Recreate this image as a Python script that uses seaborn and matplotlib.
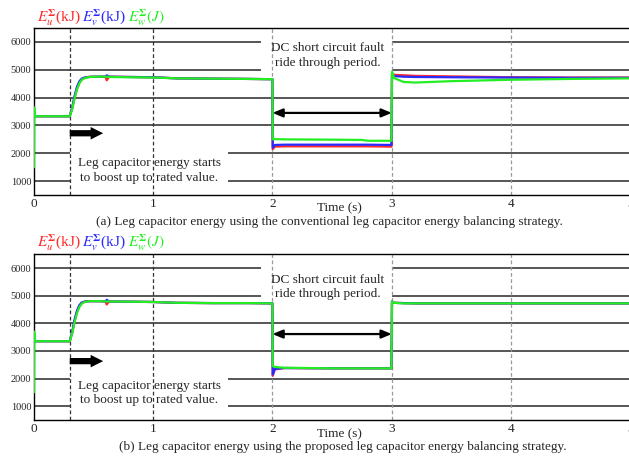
import matplotlib
matplotlib.use("Agg")
import matplotlib.pyplot as plt
from matplotlib.patches import Rectangle
import numpy as np
import pandas as pd
import seaborn as sns

sns.set_style("white")
plt.rcParams["font.family"] = ["Liberation Serif", "DejaVu Serif"]
plt.rcParams["mathtext.fontset"] = "stix"

# Sample instants (s) shared by all traces
time_s = [0, 0.002, 0.01, 0.3, 0.32, 0.34, 0.36, 0.38, 0.40, 0.43, 0.47, 0.55,
          0.6, 0.61, 0.63, 0.8, 1.0, 1.2, 1.5, 1.8, 1.999, 2.002, 2.02, 2.1,
          2.5, 2.75, 2.8, 2.998, 3.002, 3.02, 3.1, 3.2, 3.5, 4.0, 4.5, 5.0]

# (a) conventional balancing strategy
conv_u = [3300, 3330, 3330, 3330, 3600, 3980, 4300, 4520, 4650, 4720, 4745, 4750,
          4750, 4620, 4750, 4740, 4730, 4690, 4680, 4670, 4660, 2150, 2240, 2250,
          2250, 2250, 2250, 2240, 4850, 4820, 4800, 4780, 4760, 4730, 4720, 4720]
conv_v = [3330, 3330, 3330, 3330, 3640, 4050, 4380, 4580, 4680, 4730, 4745, 4750,
          4750, 4800, 4750, 4740, 4730, 4690, 4680, 4670, 4660, 2200, 2300, 2310,
          2310, 2310, 2310, 2300, 4800, 4770, 4750, 4740, 4730, 4720, 4710, 4710]
conv_w = [1500, 3650, 3330, 3330, 3580, 3960, 4290, 4510, 4640, 4710, 4740, 4750,
          4750, 4750, 4740, 4730, 4720, 4690, 4680, 4670, 4660, 2500, 2510, 2500,
          2490, 2480, 2450, 2450, 4930, 4700, 4560, 4540, 4590, 4640, 4670, 4690]

# (b) proposed balancing strategy
prop_u = [3300, 3350, 3350, 3350, 3640, 4060, 4400, 4620, 4730, 4790, 4800, 4800,
          4790, 4680, 4790, 4780, 4770, 4740, 4730, 4730, 4720, 2100, 2330, 2380,
          2370, 2370, 2370, 2370, 4780, 4740, 4730, 4720, 4720, 4720, 4720, 4720]
prop_v = [3350, 3350, 3350, 3350, 3680, 4120, 4450, 4650, 4750, 4790, 4800, 4800,
          4790, 4850, 4790, 4780, 4770, 4740, 4730, 4730, 4720, 2150, 2350, 2380,
          2370, 2370, 2370, 2370, 4790, 4740, 4730, 4720, 4720, 4720, 4720, 4720]
prop_w = [1500, 3700, 3350, 3350, 3620, 4020, 4360, 4580, 4710, 4780, 4800, 4800,
          4790, 4790, 4790, 4780, 4770, 4740, 4730, 4730, 4720, 2450, 2420, 2390,
          2370, 2370, 2370, 2370, 4790, 4740, 4720, 4720, 4720, 4720, 4720, 4720]

phase_names = ["u", "v", "w"]
phase_colors = ["#ff2a2a", "#2a2aff", "#22ee22"]
legend_labels = [r"$E_u^{\mathbf{\Sigma}}$(kJ)", r"$E_v^{\mathbf{\Sigma}}$(kJ)",
                 r"$E_w^{\mathbf{\Sigma}}(J)$"]
y_ticks = [1000, 2000, 3000, 4000, 5000, 6000]
x_ticks = [0, 1, 2, 3, 4, 5]

captions = [
    "(a) Leg capacitor energy using the conventional leg capacitor energy balancing strategy.",
    "(b) Leg capacitor energy using the proposed leg capacitor energy balancing strategy.",
]

fig = plt.figure(figsize=(6.29, 4.58), dpi=100)

panels = [
    dict(series=[conv_u, conv_v, conv_w], rect=[0.054, 0.574, 0.948, 0.365],
         boost_y=2720, ride_y=3450, boost_txt=1380, ride_txt=5510,
         legend_y=0.962, xlabel_y=0.545, cap_x=0.523, cap_y=0.515),
    dict(series=[prop_u, prop_v, prop_w], rect=[0.054, 0.083, 0.948, 0.362],
         boost_y=2630, ride_y=3610, boost_txt=1480, ride_txt=5310,
         legend_y=0.470, xlabel_y=0.052, cap_x=0.545, cap_y=0.023),
]

for idx, p in enumerate(panels):
    ax = fig.add_axes(p["rect"])
    frames = []
    for name, vals in zip(phase_names, p["series"]):
        frames.append(pd.DataFrame({"t": time_s, "E": vals, "phase": name}))
    df = pd.concat(frames, ignore_index=True)
    sns.lineplot(data=df, x="t", y="E", hue="phase", palette=phase_colors,
                 estimator=None, sort=False, linewidth=1.6, legend=False,
                 ax=ax, zorder=3)

    ax.set_xlim(0, 5)
    ax.set_ylim(500, 6500)
    ax.set_xticks(x_ticks)
    ax.set_yticks(y_ticks)
    ax.set_xticklabels([str(v) for v in x_ticks], fontsize=9.5)
    ax.set_yticklabels([str(v) for v in y_ticks], fontsize=7.5)
    ax.tick_params(axis="both", length=0, pad=2)
    ax.set_xlabel("")
    ax.set_ylabel("")

    ax.set_axisbelow(True)
    ax.yaxis.grid(True, color="#3a3a3a", linewidth=1.2)
    ax.xaxis.grid(False)
    for s in ["left", "bottom", "top"]:
        ax.spines[s].set_color("black")
        ax.spines[s].set_linewidth(1.0)
    ax.spines["right"].set_visible(False)

    # white panels behind the annotations hide the gridlines
    ax.add_patch(Rectangle((0.3, 850), 1.33, 1250, facecolor="white",
                           edgecolor="none", zorder=1))
    ax.add_patch(Rectangle((1.9, 4850), 1.1, 1600, facecolor="white",
                           edgecolor="none", zorder=1))

    for xv, col in [(0.3, "#333333"), (1, "#333333"), (2, "#999999"),
                    (3, "#999999"), (4, "#999999")]:
        ax.axvline(xv, color=col, linestyle=(0, (3, 2)), linewidth=0.9, zorder=2)

    ax.text(0.965, p["boost_txt"], "Leg capacitor energy starts\nto boost up to rated value.",
            ha="center", va="center", fontsize=9.5, linespacing=1.25, zorder=4)
    ax.text(2.46, p["ride_txt"], "DC short circuit fault\nride through period.",
            ha="center", va="center", fontsize=9.5, linespacing=1.25, zorder=4)

    ax.annotate("", xy=(0.58, p["boost_y"]), xytext=(0.3, p["boost_y"]),
                arrowprops=dict(arrowstyle="simple,head_length=0.9,head_width=0.9,tail_width=0.45",
                                color="black", lw=0, shrinkA=0, shrinkB=0), zorder=4)
    ax.annotate("", xy=(2.0, p["ride_y"]), xytext=(3.0, p["ride_y"]),
                arrowprops=dict(arrowstyle="<|-|>,head_length=0.6,head_width=0.25",
                                color="black", lw=1.6, shrinkA=0, shrinkB=0), zorder=4)

    xs = [0.059, 0.13, 0.203]
    for x0, lab, col in zip(xs, legend_labels, phase_colors):
        fig.text(x0, p["legend_y"], lab, color=col, fontsize=11, ha="left",
                 va="center")

    fig.text(0.54, p["xlabel_y"], "Time (s)", ha="center", va="center", fontsize=9.5)
    fig.text(p["cap_x"], p["cap_y"], captions[idx], ha="center", va="center", fontsize=9.5)

fig.savefig("out.png", dpi=100)
